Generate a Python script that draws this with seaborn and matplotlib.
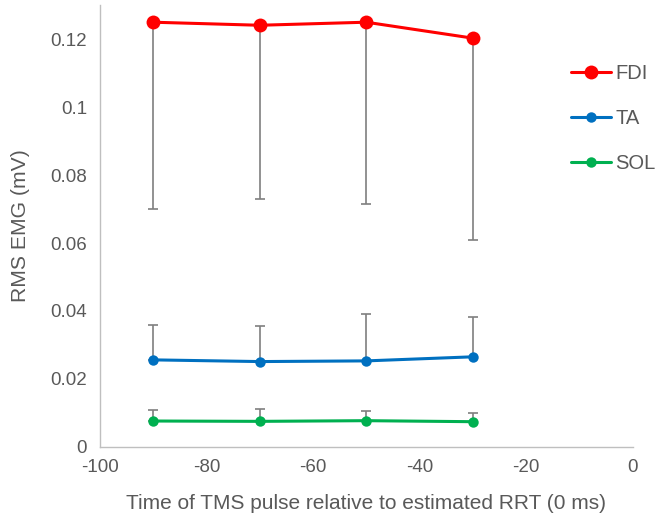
import numpy as np
import pandas as pd
import matplotlib
matplotlib.use('Agg')
import matplotlib.pyplot as plt
import seaborn as sns
from matplotlib.lines import Line2D

# data
times = [-90, -70, -50, -30]
muscles = ['FDI', 'TA', 'SOL']
fdi = [0.1250, 0.1241, 0.1250, 0.1203]
ta = [0.0256, 0.0251, 0.0253, 0.0265]
sol = [0.0076, 0.0075, 0.0077, 0.0074]
# error bar ends (FDI bars go down, TA/SOL bars go up)
fdi_err_end = [0.0700, 0.0729, 0.0715, 0.0609]
ta_err_end = [0.0359, 0.0355, 0.0392, 0.0383]
sol_err_end = [0.0107, 0.0112, 0.0105, 0.0100]

colors = {'FDI': '#FF0000', 'TA': '#0070C0', 'SOL': '#00B050'}

df = pd.DataFrame({
    'time': times * 3,
    'rms': fdi + ta + sol,
    'muscle': ['FDI'] * 4 + ['TA'] * 4 + ['SOL'] * 4,
})

sns.set_style('white')
plt.rcParams['font.family'] = ['Liberation Sans', 'DejaVu Sans']
plt.rcParams['axes.unicode_minus'] = False

fig = plt.figure(figsize=(6.69, 5.22), dpi=100)
ax = fig.add_axes([0.149, 0.144, 0.797, 0.846])

# error bars first so the lines sit on top
err_grey = '#7F7F7F'
ax.errorbar(times, fdi, yerr=[np.array(fdi) - np.array(fdi_err_end), np.zeros(4)],
            fmt='none', ecolor=err_grey, elinewidth=1.2, capsize=3.5, capthick=1.2, zorder=1)
ax.errorbar(times, ta, yerr=[np.zeros(4), np.array(ta_err_end) - np.array(ta)],
            fmt='none', ecolor=err_grey, elinewidth=1.2, capsize=3.5, capthick=1.2, zorder=1)
ax.errorbar(times, sol, yerr=[np.zeros(4), np.array(sol_err_end) - np.array(sol)],
            fmt='none', ecolor=err_grey, elinewidth=1.2, capsize=3.5, capthick=1.2, zorder=1)

msizes = {'FDI': 10, 'TA': 7.5, 'SOL': 7.5}
for m in muscles:
    sub = df[df['muscle'] == m]
    sns.lineplot(data=sub, x='time', y='rms', ax=ax, color=colors[m],
                 marker='o', markersize=msizes[m], markeredgewidth=0,
                 linewidth=2.2, zorder=3, legend=False)

ax.set_xlim(-100, 0)
ax.set_ylim(0, 0.13)
ax.set_xticks(range(-100, 1, 20))
ax.set_yticks([0, 0.02, 0.04, 0.06, 0.08, 0.1, 0.12])
ax.set_yticklabels(['0', '0.02', '0.04', '0.06', '0.08', '0.1', '0.12'])

ax.set_xlabel('Time of TMS pulse relative to estimated RRT (0 ms)', fontsize=15,
              color='#595959', labelpad=13)
ax.set_ylabel('RMS EMG (mV)', fontsize=15.2, color='#595959', labelpad=15)

ax.tick_params(axis='both', labelsize=13.5, colors='#595959', length=5, width=1,
               direction='out', pad=4)
ax.tick_params(axis='both', color='#BFBFBF')
sns.despine(ax=ax)
for s in ['left', 'bottom']:
    ax.spines[s].set_color('#BFBFBF')
    ax.spines[s].set_linewidth(1)

handles = [Line2D([0], [0], color=colors[m], lw=2.2, marker='o',
                  markersize=msizes[m], markeredgewidth=0) for m in muscles]
leg = fig.legend(handles, muscles, loc='upper left', bbox_to_anchor=(0.826, 0.912),
                 frameon=False, fontsize=14.5, labelspacing=1.29, handlelength=2.0,
                 handletextpad=0.2)
for t in leg.get_texts():
    t.set_color('#595959')

fig.savefig('out.png', dpi=100)
